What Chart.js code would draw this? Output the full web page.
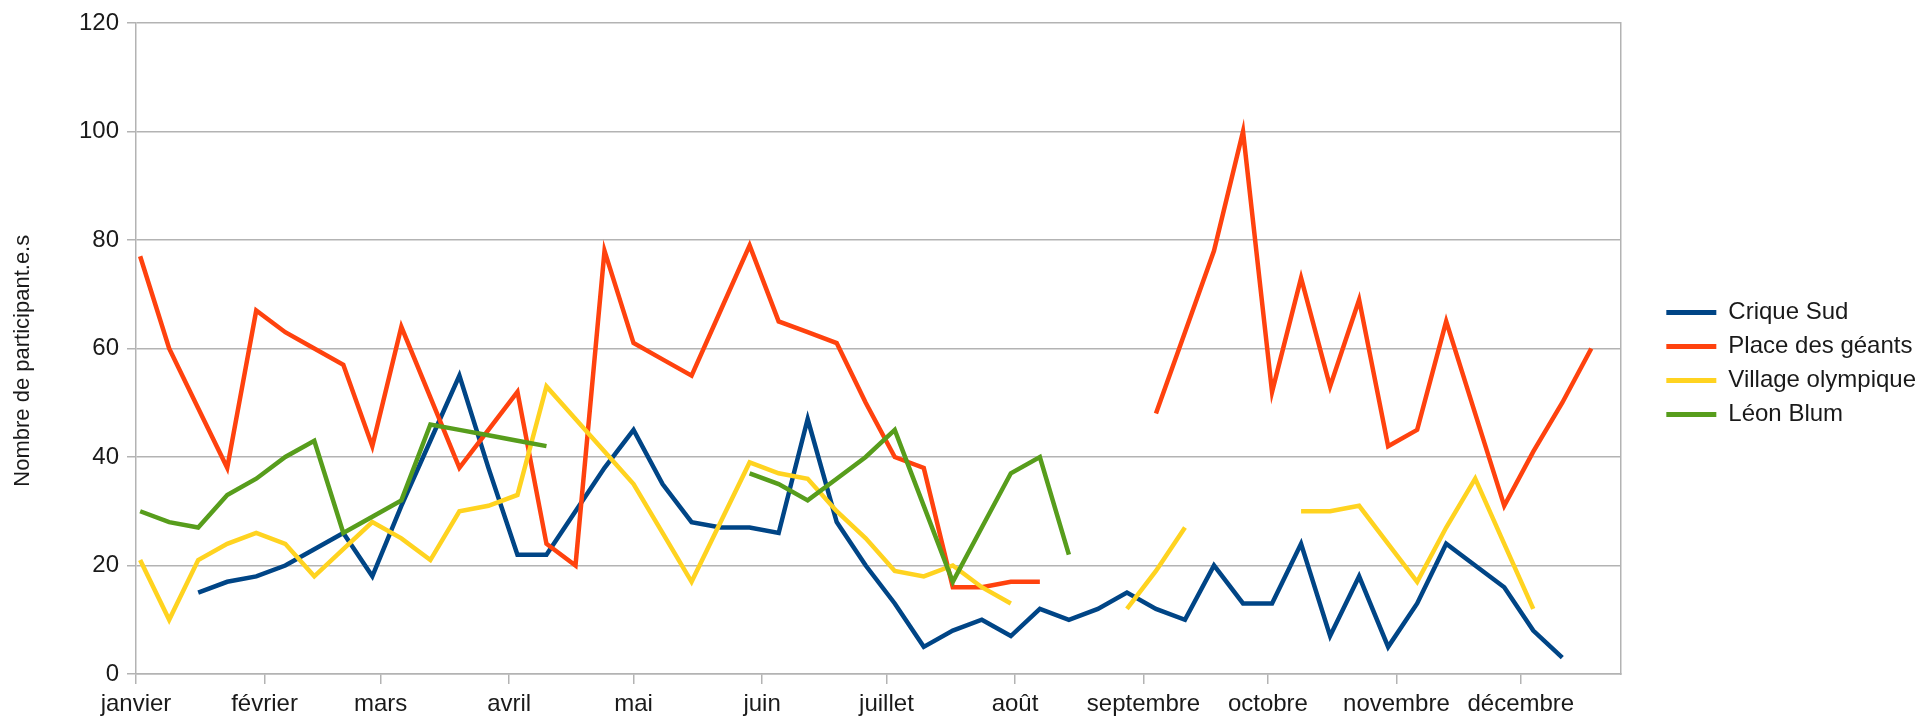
<!DOCTYPE html>
<html>
<head>
<meta charset="utf-8">
<script src="https://cdn.jsdelivr.net/npm/chart.js@4/dist/chart.umd.min.js"></script>
<style>
html,body{margin:0;padding:0;background:#fff;}
#wrap{width:1926px;height:720px;}
</style>
</head>
<body>
<div id="wrap"><canvas id="c" width="1926" height="720"></canvas></div>
<script>
const monthNames = ['janvier','février','mars','avril','mai','juin','juillet','août','septembre','octobre','novembre','décembre'];
const monthStartDays = [0,31,59,90,120,151,181,212,243,273,304,334];
const axisEndDay = 358;

const weekDates = ['02/01','09/01','16/01','23/01','30/01','06/02','13/02','20/02','27/02','06/03','13/03','20/03','27/03','03/04','10/04','17/04','24/04','01/05','08/05','15/05','22/05','29/05','05/06','12/06','19/06','26/06','03/07','10/07','17/07','24/07','31/07','07/08','14/08','21/08','28/08','04/09','11/09','18/09','25/09','02/10','09/10','16/10','23/10','30/10','06/11','13/11','20/11','27/11','04/12','11/12','18/12'];

const criqueSud = [null,null,15,17,18,20,23,26,18,31,43,55,38,22,22,30,38,45,35,28,27,27,26,47,28,20,13,5,8,10,7,12,10,12,15,12,10,20,13,13,24,7,18,5,13,24,20,16,8,3,null];
const placeGeants = [77,60,49,38,67,63,60,57,42,64,51,38,45,52,24,20,78,61,58,55,67,79,65,63,61,50,40,38,16,16,17,17,null,null,null,48,63,78,100,52,73,53,69,42,45,65,48,31,41,50,60];
const villageOlympique = [21,10,21,24,26,24,18,23,28,25,21,30,31,33,53,47,41,35,26,17,28,39,37,36,30,25,19,18,20,16,13,null,null,null,12,19,27,null,null,null,30,30,31,24,17,27,36,24,12,null,null];
const leonBlum = [30,28,27,33,36,40,43,26,29,32,46,45,44,43,42,null,null,null,null,null,null,37,35,32,36,40,45,31,17,27,37,40,22,null,null,null,null,null,null,null,null,null,null,null,null,null,null,null,null,null,null];

const seriesNames = ['Crique Sud','Place des géants','Village olympique','Léon Blum'];
const seriesColors = ['#004586','#ff420e','#ffd320','#579d1c'];
const seriesValues = [criqueSud, placeGeants, villageOlympique, leonBlum];
const yTitle = 'Nombre de participant.e.s';

function dayOf(s){
  const [dd, mm] = s.split('/').map(Number);
  return monthStartDays[mm-1] + dd - 1;
}
const xDays = weekDates.map(dayOf);

const FONT = 'Liberation Sans, Arial, sans-serif';
const GRID = '#b3b3b3';
const TXT = '#1a1a1a';

const datasets = seriesValues.map((vals, k) => ({
  label: seriesNames[k],
  data: vals.map((v, i) => ({x: xDays[i], y: v})),
  borderColor: seriesColors[k],
  backgroundColor: seriesColors[k],
  borderWidth: 4.5,
  pointRadius: 0,
  pointHoverRadius: 0,
  tension: 0,
  spanGaps: false,
  fill: false,
  order: seriesValues.length - k
}));

const legendShift = {
  id: 'legendShift',
  afterLayout(chart) {
    const lg = chart.legend;
    if (lg) { lg.top -= 8; lg.bottom -= 8; }
  }
};

new Chart(document.getElementById('c'), {
  type: 'line',
  data: { datasets },
  plugins: [legendShift],
  options: {
    responsive: false,
    animation: false,
    devicePixelRatio: 1,
    layout: { padding: { top: 23, right: 0, bottom: 0, left: 0 } },
    plugins: {
      tooltip: { enabled: false },
      title: { display: false },
      legend: {
        position: 'right',
        align: 'center',
        labels: {
          boxWidth: 50,
          boxHeight: 5,
          padding: 10,
          color: TXT,
          font: { family: FONT, size: 24 },
          generateLabels: (chart) => chart.data.datasets.map((ds, i) => ({
            text: ds.label,
            fillStyle: ds.borderColor,
            strokeStyle: ds.borderColor,
            lineWidth: 0,
            hidden: false,
            datasetIndex: i,
            fontColor: TXT
          }))
        }
      }
    },
    scales: {
      x: {
        type: 'linear',
        min: 0,
        max: axisEndDay,
        afterBuildTicks: (s) => { s.ticks = monthStartDays.map(v => ({ value: v })); },
        afterFit: (s) => { s.height = 46; },
        ticks: {
          autoSkip: false,
          maxRotation: 0,
          minRotation: 0,
          padding: 6,
          color: TXT,
          font: { family: FONT, size: 24 },
          callback: (v) => monthNames[monthStartDays.indexOf(v)]
        },
        grid: { drawOnChartArea: false, drawTicks: true, tickLength: 10, color: GRID, lineWidth: 1.5 },
        border: { display: true, color: GRID, width: 1.5 }
      },
      y: {
        position: 'left',
        min: 0,
        max: 120,
        afterFit: (s) => { s.width = 136; },
        ticks: { stepSize: 20, padding: 8, color: TXT, font: { family: FONT, size: 24 } },
        grid: { color: GRID, lineWidth: 1.5, tickLength: 9 },
        border: { display: true, color: GRID, width: 1.5 },
        title: {
          display: true,
          text: yTitle + '\u00a0\u00a0\u00a0\u00a0',
          color: TXT,
          font: { family: FONT, size: 22 },
          padding: { top: 10, bottom: 0 }
        }
      },
      y2: {
        position: 'right',
        display: true,
        min: 0,
        max: 120,
        afterFit: (s) => { s.width = 36; },
        ticks: { display: false },
        grid: { drawOnChartArea: false, drawTicks: false },
        border: { display: true, color: GRID, width: 1.5 }
      }
    }
  }
});
</script>
</body>
</html>
